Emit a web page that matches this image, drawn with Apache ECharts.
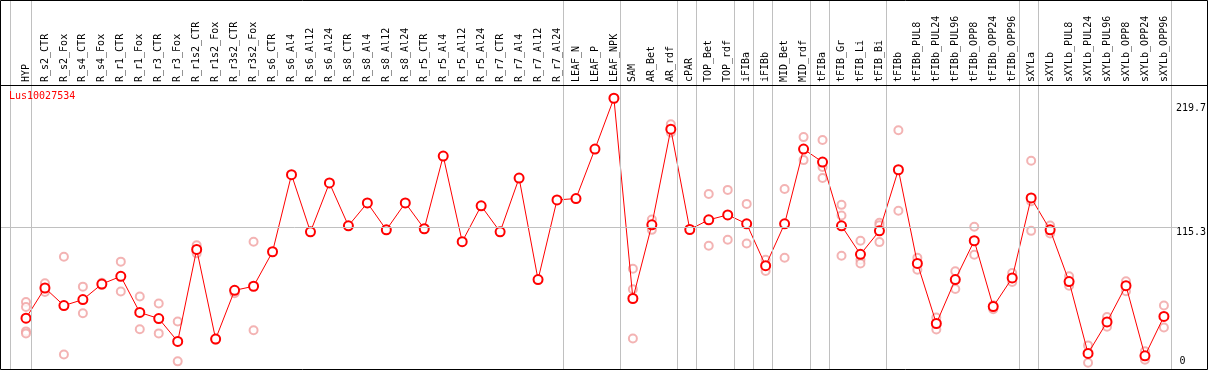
<!DOCTYPE html>
<html>
<head>
<meta charset="utf-8">
<script src="https://cdn.jsdelivr.net/npm/echarts@6/dist/echarts.min.js"></script>
<style>
html,body{margin:0;padding:0;background:#fff;}
#chart{width:1209px;height:370px;}
</style>
</head>
<body>
<div id="chart"></div>
<script>
const titleText = 'Lus10027534';
const categories = ['HYP','R_s2_CTR','R_s2_Fox','R_s4_CTR','R_s4_Fox','R_r1_CTR','R_r1_Fox','R_r3_CTR','R_r3_Fox','R_r1s2_CTR','R_r1s2_Fox','R_r3s2_CTR','R_r3s2_Fox','R_s6_CTR','R_s6_Al4','R_s6_Al12','R_s6_Al24','R_s8_CTR','R_s8_Al4','R_s8_Al12','R_s8_Al24','R_r5_CTR','R_r5_Al4','R_r5_Al12','R_r5_Al24','R_r7_CTR','R_r7_Al4','R_r7_Al12','R_r7_Al24','LEAF_N','LEAF_P','LEAF_NPK','SAM','AR_Bet','AR_rdf','cPAR','TOP_Bet','TOP_rdf','iFIBa','iFIBb','MID_Bet','MID_rdf','tFIBa','tFIB_Gr','tFIB_Li','tFIB_Bi','tFIBb','tFIBb_PUL8','tFIBb_PUL24','tFIBb_PUL96','tFIBb_OPP8','tFIBb_OPP24','tFIBb_OPP96','sXYLa','sXYLb','sXYLb_PUL8','sXYLb_PUL24','sXYLb_PUL96','sXYLb_OPP8','sXYLb_OPP24','sXYLb_OPP96'];
const meanValues = [41.9,66.3,52.1,56.9,69.5,75.7,46.5,41.6,23.1,97.5,25.0,64.4,67.7,95.6,157.9,111.7,151.2,116.6,135.1,113.3,135.1,114.2,173.0,103.7,132.7,111.7,155.2,73.1,137.5,138.6,178.6,219.7,57.8,117.4,194.7,113.6,121.4,125.4,118.2,84.3,118.2,178.6,168.1,116.6,93.5,112.5,161.9,86.2,37.6,73.1,104.5,51.3,74.4,139.1,113.3,71.5,13.4,38.9,68.2,11.5,43.3];
const replicateValues = [
  [55.0,51.0,31.2,29.6],[70.1,63.1],[91.6,12.6],[67.4,45.9],[70.5,68.7],[87.6,63.4],[59.4,33.0],[53.7,29.6],[39.2,7.0],[100.9,94.3],
  [25.5,24.5],[62.6,62.0],[103.7,32.2],[],[],[],[],[],[],[],
  [],[],[],[],[],[],[],[],[],[],
  [],[],[81.9,65.3,25.5],[121.6,113.3],[198.7,192.0],[],[142.3,100.5],[145.6,105.3],[134.3,102.3],[89.2,80.0],
  [146.4,90.8],[188.3,169.7],[185.9,164.1,155.2],[133.5,124.9,92.4],[104.5,89.2,86.2],[119.0,117.1,103.4],[193.9,128.7],[90.8,81.1],[42.5,32.8],[79.8,65.5],
  [115.8,93.2],[52.4,49.1],[78.4,71.1],[169.2,136.4,112.5],[116.8,110.4],[75.7,68.2],[19.9,5.9],[42.9,34.9],[71.7,63.6],[15.1,8.3],
  [52.1,34.4]
];
const yLabelValues = [115.3, 219.7];
const yZeroLabel = [0];
const gridLineValue = 115.3;
const groupEndsAfter = [0,28,31,34,35,37,38,39,41,42,45,52,53,60];
const leadingSeparator = -0.84;

// layout (pixels)
const STEP = 19, FIRST_X = 26, LABEL_EDGE = 1178, ZERO_Y = 371, PLOT_TOP = 85;
const PX_PER_UNIT = (ZERO_Y - 98.3) / 219.7;
const dataMax = (ZERO_Y - PLOT_TOP) / PX_PER_UNIT;
const fullMax = ZERO_Y / PX_PER_UNIT;
const mono = 'DejaVu Sans Mono';

const repData = [];
replicateValues.forEach((arr, i) => arr.forEach(v => repData.push([i, v])));
const sepLines = [{xAxis: leadingSeparator}].concat(groupEndsAfter.map(i => ({xAxis: i + 0.25})));
sepLines.push({yAxis: gridLineValue});

const chart = echarts.init(document.getElementById('chart'), null, {renderer: 'canvas'});
chart.setOption({
  animation: false,
  backgroundColor: '#fff',
  title: {
    text: titleText, left: 9, top: 91, padding: 0,
    textStyle: {color: '#ff0000', fontFamily: mono, fontSize: 10, fontWeight: 'normal'}
  },
  grid: [
    {left: FIRST_X - STEP / 2, right: 1209 - (FIRST_X - STEP / 2 + STEP * categories.length), top: PLOT_TOP, bottom: 370 - ZERO_Y},
    {left: 0, right: 1209 - LABEL_EDGE, top: 0, bottom: 370 - ZERO_Y}
  ],
  xAxis: [
    {
      type: 'category', gridIndex: 0, position: 'top', data: categories, boundaryGap: true,
      axisLine: {show: false}, axisTick: {show: false}, splitLine: {show: false},
      axisLabel: {interval: 0, rotate: 90, margin: 3, color: '#000', fontFamily: mono, fontSize: 10}
    },
    {
      type: 'value', gridIndex: 1, min: -FIRST_X / STEP, max: (LABEL_EDGE - FIRST_X) / STEP, show: false
    }
  ],
  yAxis: [
    {
      type: 'value', gridIndex: 0, position: 'right', min: 0, max: dataMax,
      axisLine: {show: false}, axisTick: {show: false}, splitLine: {show: false},
      axisLabel: {
        customValues: yLabelValues, margin: 2.5, verticalAlign: 'top', color: '#000', fontFamily: mono, fontSize: 10,
        formatter: v => (v === 219.7 ? '{a|' + v + '}' : String(v)),
        rich: {a: {padding: [5, 0, 0, 0], fontFamily: mono, fontSize: 10, color: '#000'}}
      }
    },
    {
      type: 'value', gridIndex: 1, position: 'right', min: 0, max: fullMax,
      axisLine: {show: false}, axisTick: {show: false}, splitLine: {show: false},
      axisLabel: {
        customValues: yZeroLabel, margin: 1.5, verticalAlign: 'bottom', padding: [0, 0, 4, 0],
        color: '#000', fontFamily: mono, fontSize: 10, formatter: v => String(v)
      }
    }
  ],
  series: [
    {
      type: 'scatter', xAxisIndex: 1, yAxisIndex: 1, data: [], silent: true, z: 1,
      markLine: {
        silent: true, symbol: ['none', 'none'], animation: false,
        label: {show: false}, emphasis: {disabled: true},
        lineStyle: {color: '#c0c0c0', type: 'solid', width: 1},
        data: sepLines
      }
    },
    {
      type: 'scatter', xAxisIndex: 0, yAxisIndex: 0, data: repData, z: 2, silent: true,
      symbol: 'emptyCircle', symbolSize: 8,
      itemStyle: {color: '#f0a0a0', borderWidth: 1.5}
    },
    {
      type: 'line', xAxisIndex: 0, yAxisIndex: 0, data: meanValues, z: 3, silent: true,
      symbol: 'emptyCircle', symbolSize: 9, showAllSymbol: true,
      lineStyle: {color: '#ff0000', width: 1},
      itemStyle: {color: '#ff0000', borderWidth: 1.5}
    }
  ],
  graphic: [
    {type: 'rect', z: 100, silent: true, shape: {x: 0.5, y: 0.5, width: 1207, height: 369}, style: {fill: null, stroke: '#000', lineWidth: 1}},
    {type: 'line', z: 100, silent: true, shape: {x1: 0, y1: 85.5, x2: 1208, y2: 85.5}, style: {stroke: '#000', lineWidth: 1}}
  ]
});
</script>
</body>
</html>
